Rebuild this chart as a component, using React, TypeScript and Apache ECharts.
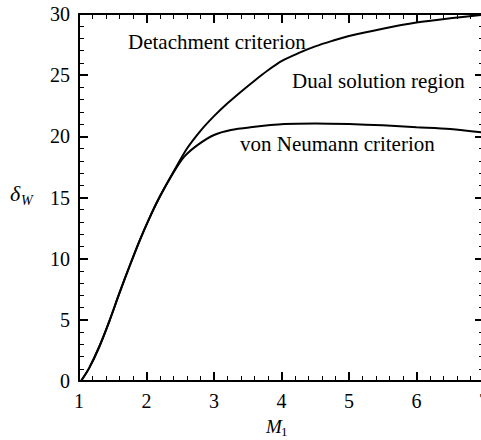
import React, { useEffect, useRef } from "react";
import * as echarts from "echarts";

const detachM = [1.03, 1.15, 1.3, 1.45, 1.6, 1.75, 1.9, 2.05, 2.2, 2.4, 2.6, 2.8, 3.0, 3.2, 3.4, 3.6, 3.8, 4.0, 4.25, 4.5, 4.75, 5.0, 5.5, 6.0, 6.5, 7.0];
const detachD = [0, 1.05, 2.8, 4.9, 7.2, 9.4, 11.5, 13.4, 15.1, 17.1, 19.0, 20.45, 21.65, 22.7, 23.65, 24.55, 25.4, 26.15, 26.8, 27.35, 27.8, 28.2, 28.8, 29.3, 29.65, 29.95];

const neumannM = [1.03, 1.15, 1.3, 1.45, 1.6, 1.75, 1.9, 2.05, 2.2, 2.4, 2.56, 2.76, 3.0, 3.25, 3.54, 4.04, 4.5, 5.0, 5.5, 6.0, 6.5, 7.0];
const neumannD = [0, 1.05, 2.8, 4.9, 7.2, 9.4, 11.5, 13.4, 15.1, 17.05, 18.34, 19.3, 20.11, 20.52, 20.74, 21.0, 21.05, 21.0, 20.9, 20.75, 20.6, 20.3];

const xTicks = [1, 2, 3, 4, 5, 6, 7];
const yTicks = [0, 5, 10, 15, 20, 25, 30];

const annotations = ["Detachment criterion", "Dual solution region", "von Neumann criterion"];

const FONT = "Liberation Serif";

export default function App() {
  const ref = useRef<HTMLDivElement>(null);
  useEffect(() => {
    if (!ref.current) return;
    const chart = echarts.init(ref.current, undefined, { renderer: "svg" });
    const axisLine = () => ({ show: true, onZero: false, lineStyle: { color: "#000", width: 2 } });
    const tick = () => ({ show: true, inside: true, length: 9, lineStyle: { color: "#000", width: 2 } });
    const minor = () => ({ show: true, splitNumber: 5, length: 5, lineStyle: { color: "#000", width: 1 } });
    const xMin = xTicks[0], xMax = xTicks[xTicks.length - 1];
    const yMin = yTicks[0], yMax = yTicks[yTicks.length - 1];
    const txt = (text: string, x: number, y: number, size: number, italic = false) => ({
      type: "text",
      x,
      y,
      silent: true,
      style: {
        text,
        fill: "#000",
        fontFamily: FONT,
        fontSize: size,
        fontStyle: italic ? "italic" : "normal",
        textAlign: "left",
        textVerticalAlign: "middle",
      },
    });
    chart.setOption({
      animation: false,
      backgroundColor: "#fff",
      grid: { left: 79, right: -3, top: 14, bottom: 59, outerBoundsMode: "none" },
      xAxis: [
        {
          type: "value",
          min: xMin,
          max: xMax,
          interval: 1,
          axisLine: axisLine(),
          axisTick: tick(),
          minorTick: minor(),
          splitLine: { show: false },
          axisLabel: { show: true, color: "#000", fontFamily: FONT, fontSize: 20, margin: 10 },
        },
        {
          type: "value",
          position: "top",
          min: xMin,
          max: xMax,
          interval: 1,
          axisLine: axisLine(),
          axisTick: tick(),
          minorTick: minor(),
          splitLine: { show: false },
          axisLabel: { show: false },
        },
      ],
      yAxis: [
        {
          type: "value",
          min: yMin,
          max: yMax,
          interval: 5,
          axisLine: axisLine(),
          axisTick: tick(),
          minorTick: minor(),
          splitLine: { show: false },
          axisLabel: { show: true, color: "#000", fontFamily: FONT, fontSize: 20, margin: 9 },
        },
        {
          type: "value",
          position: "right",
          min: yMin,
          max: yMax,
          interval: 5,
          axisLine: axisLine(),
          axisTick: tick(),
          minorTick: minor(),
          splitLine: { show: false },
          axisLabel: { show: false },
        },
      ],
      series: [
        {
          type: "line",
          name: annotations[0],
          data: detachM.map((m, i) => [m, detachD[i]]),
          smooth: 0.3,
          showSymbol: false,
          lineStyle: { color: "#000", width: 2 },
        },
        {
          type: "line",
          name: annotations[2],
          data: neumannM.map((m, i) => [m, neumannD[i]]),
          smooth: 0.3,
          showSymbol: false,
          lineStyle: { color: "#000", width: 2 },
        },
      ],
      graphic: [
        txt(annotations[0], 128, 42, 21),
        txt(annotations[1], 292, 81, 21),
        txt(annotations[2], 240, 144, 21),
        txt("δ", 10, 193, 22, true),
        txt("W", 21, 200, 14, true),
        txt("M", 266, 426, 19, true),
        txt("1", 281, 431, 13),
      ],
    });
    return () => chart.dispose();
  }, []);
  return (
    <div
      ref={ref}
      style={{ position: "fixed", left: 0, top: 0, width: 481, height: 440, overflow: "hidden", background: "#fff" }}
    />
  );
}
